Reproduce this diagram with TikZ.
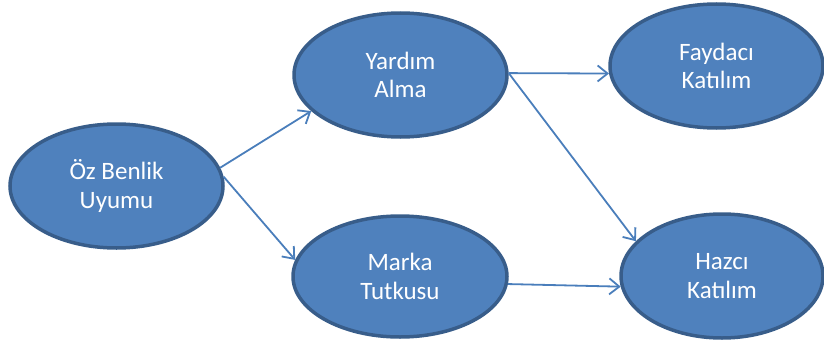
\documentclass[tikz,border=0pt]{standalone}
\usepackage{fontspec}
\setmainfont{Carlito}
\usetikzlibrary{shapes.geometric,arrows.meta}
\definecolor{ellfill}{HTML}{4F81BD}
\definecolor{elldraw}{HTML}{385D8A}
\definecolor{arrcol}{HTML}{4A7EBB}
\begin{document}
\begin{tikzpicture}[x=1pt,y=-1pt,
  oval/.style={ellipse, draw=elldraw, fill=ellfill, line width=3.5pt, inner sep=0pt,
    text=white, align=center, font=\fontsize{25}{28.5}\selectfont},
  conn/.style={draw=arrcol, line width=1.8pt, -{Straight Barb[length=10pt,width=16pt]}}]
\useasboundingbox (0,0) rectangle (824,340);
\node[oval, minimum width=213pt, minimum height=124pt] (oz) at (116.5,186) {Öz Benlik\\Uyumu};
\node[oval, minimum width=213pt, minimum height=124pt] (yardim) at (400.5,75) {Yardım\\Alma};
\node[oval, minimum width=214pt, minimum height=121pt] (marka) at (400,276.5) {Marka\\Tutkusu};
\node[oval, minimum width=213pt, minimum height=124pt] (faydaci) at (716.5,66) {Faydacı\\Katılım};
\node[oval, minimum width=202pt, minimum height=124pt] (hazci) at (722,276) {Hazcı\\Katılım};
\draw[conn] (oz.10) -- (yardim.202);
\draw[conn] (oz.5) -- (marka.171);
\draw[conn] (yardim.1) -- (faydaci.184);
\draw[conn] (yardim.1) -- (hazci.158);
\draw[conn] (marka.-4) -- (hazci.186);
\end{tikzpicture}
\end{document}
